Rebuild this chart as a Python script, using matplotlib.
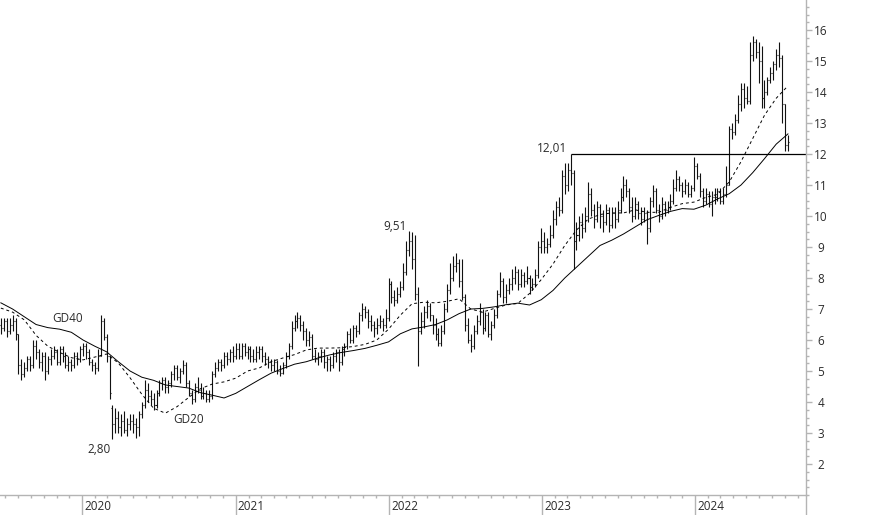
import matplotlib
matplotlib.use("Agg")
import matplotlib.pyplot as plt
import matplotlib.dates as mdates
from matplotlib.collections import LineCollection
from matplotlib.lines import Line2D
from matplotlib.ticker import MultipleLocator, NullFormatter
import pandas as pd

plt.rcParams['font.family'] = ['Open Sans', 'DejaVu Sans']

# weekly bars, first week
start = "2019-06-21"

opens = [6.5, 6.4, 6.6, 6.3, 6.5, 6.6, 6.2, 5.2, 4.9, 5.1,
         5.4, 5.2, 5.8, 5.6, 5.3, 5.5, 5.0, 5.4, 5.5, 5.6,
         5.3, 5.7, 5.5, 5.2, 5.3, 5.2, 5.5, 5.4, 5.7, 5.8,
         5.6, 5.3, 5.2, 5.1, 5.5, 6.6, 6.1, 5.5, 3.8, 3.3,
         3.5, 3.2, 3.4, 3.1, 3.3, 3.4, 3.3, 3.2, 3.6, 3.9,
         4.4, 4.2, 4.1, 3.9, 4.3, 4.6, 4.7, 4.5, 4.6, 4.9,
         5.1, 4.8, 5.0, 5.2, 4.6, 4.3, 4.1, 4.5, 4.4, 4.2,
         4.3, 4.1, 4.2, 4.9, 5.1, 5.3, 5.2, 5.5, 5.4, 5.6,
         5.5, 5.7, 5.5, 5.8, 5.6, 5.7, 5.5, 5.4, 5.6, 5.7,
         5.5, 5.4, 5.3, 5.2, 5.3, 5.0, 4.95, 5.2, 5.5, 5.8,
         6.4, 6.6, 6.7, 6.5, 6.3, 6.0, 6.1, 5.5, 5.4, 5.5,
         5.6, 5.3, 5.4, 5.2, 5.5, 5.6, 5.3, 5.7, 5.8, 6.2,
         6.0, 6.4, 6.3, 6.8, 7.0, 6.9, 6.6, 6.5, 6.4, 6.5,
         6.6, 6.5, 6.7, 7.8, 7.4, 7.3, 7.5,
         7.7, 8.2, 8.9, 9.2, 8.6, 7.5, 6.3, 6.6, 6.9, 7.1,
         6.8, 6.5, 6.2, 5.9, 6.3, 7.0, 7.6, 8.0, 8.4, 8.5,
         7.9, 7.4, 6.5, 6.0, 5.8, 6.3, 6.6, 6.9, 6.4, 6.8,
         6.2, 6.5, 6.8, 7.5, 7.9, 7.4, 7.6, 7.8, 8.0, 8.2,
         7.8, 8.1, 7.9, 8.0, 7.7, 7.8, 8.1, 9.0, 9.2, 9.0,
         9.1, 9.4, 9.9, 10.3, 10.2, 11.3, 11.0, 11.5, 11.4, 9.2,
         9.4, 9.8, 9.6, 10.0, 10.7, 10.2, 9.9, 10.3, 10.0, 9.8,
         10.2, 9.7, 10.1, 9.9, 10.2, 10.6, 11.0, 10.8, 10.3, 10.0,
         10.4, 10.1, 9.9, 10.1, 9.6, 10.5, 10.8, 10.2, 10.0, 10.4,
         10.2, 10.3, 10.5, 10.9, 11.2, 11.0, 10.8, 11.0, 10.7, 10.9,
         11.6, 11.3, 10.8, 10.5, 10.7, 10.4, 10.6, 10.6, 10.8, 10.5,
         10.7, 11.0, 12.8, 12.7, 13.1, 13.6, 14.1, 13.8, 13.7, 15.2,
         15.6, 15.3, 15.0, 13.8, 14.0, 14.4,
         14.6, 14.9, 15.2, 15.1, 13.6, 12.3]

highs = [6.7, 6.7, 6.7, 6.7, 6.8, 6.7, 6.2, 5.4, 5.3, 5.5,
         5.5, 6.0, 6.0, 5.7, 5.6, 5.6, 5.5, 5.7, 5.8, 5.7,
         5.8, 5.8, 5.6, 5.5, 5.4, 5.6, 5.6, 5.8, 5.9, 5.9,
         5.7, 5.4, 5.3, 5.7, 6.8, 6.7, 6.2, 5.5, 3.9, 3.8,
         3.7, 3.6, 3.7, 3.5, 3.6, 3.6, 3.5, 3.7, 4.0, 4.7,
         4.6, 4.4, 4.3, 4.4, 4.7, 4.8, 4.8, 4.7, 5.0, 5.2,
         5.2, 5.1, 5.35, 5.3, 4.7, 4.4, 4.6, 4.8, 4.6, 4.5,
         4.4, 4.4, 5.0, 5.3, 5.4, 5.4, 5.6, 5.6, 5.7, 5.8,
         5.9, 5.9, 5.9, 5.9, 5.8, 5.8, 5.7, 5.8, 5.8, 5.8,
         5.6, 5.5, 5.4, 5.4, 5.35, 5.2, 5.3, 5.6, 5.9, 6.6,
         6.8, 6.9, 6.8, 6.6, 6.4, 6.3, 6.2, 5.7, 5.6, 5.7,
         5.7, 5.5, 5.5, 5.6, 5.7, 5.7, 5.8, 5.9, 6.3, 6.4,
         6.5, 6.5, 6.9, 7.2, 7.1, 7.0, 6.8, 6.6, 6.7, 6.8,
         6.7, 7.0, 8.0, 7.9, 7.6, 7.7, 7.9,
         8.5, 9.2, 9.51, 9.5, 9.4, 7.7, 6.9, 7.1, 7.3, 7.2,
         6.8, 6.7, 6.4, 6.5, 7.2, 7.8, 8.5, 8.7, 8.8, 8.6,
         8.6, 7.5, 6.7, 6.2, 6.5, 6.8, 7.2, 7.0, 6.9, 6.9,
         6.6, 7.0, 7.6, 8.2, 8.0, 7.8, 8.0, 8.3, 8.4, 8.3,
         8.3, 8.2, 8.4, 8.1, 8.0, 8.3, 9.2, 9.6, 9.5, 9.3,
         9.7, 10.2, 10.5, 10.6, 11.5, 11.7, 11.7, 12.01, 11.5, 9.8,
         10.0, 10.1, 10.3, 11.1, 10.9, 10.4, 10.5, 10.4, 10.2, 10.4,
         10.3, 10.3, 10.3, 10.5, 10.9, 11.3, 11.2, 10.9, 10.6, 10.6,
         10.5, 10.3, 10.3, 10.2, 10.6, 11.0, 10.9, 10.4, 10.6, 10.5,
         10.5, 10.7, 11.2, 11.5, 11.3, 11.1, 11.2, 11.1, 11.0, 11.9,
         11.7, 11.4, 10.9, 10.9, 10.8, 10.8, 10.9, 10.9, 10.9, 10.9,
         11.6, 12.9, 13.0, 13.3, 13.9, 14.3, 14.3, 14.2, 15.6, 15.8,
         15.7, 15.6, 15.5, 14.4, 14.5, 14.8,
         15.0, 15.4, 15.6, 15.2, 13.6, 12.6]

lows = [6.2, 6.3, 6.1, 6.2, 6.3, 6.0, 4.9, 4.7, 4.8, 5.0,
        5.0, 5.1, 5.4, 5.1, 5.0, 4.7, 4.9, 5.2, 5.4, 5.2,
        5.2, 5.3, 5.1, 5.0, 5.0, 5.1, 5.2, 5.3, 5.5, 5.4,
        5.2, 5.0, 4.9, 5.0, 5.5, 6.0, 5.3, 4.1, 2.8, 3.0,
        3.0, 2.9, 3.0, 2.9, 3.1, 3.0, 2.85, 2.9, 3.5, 3.8,
        4.0, 3.9, 3.75, 3.8, 4.2, 4.4, 4.3, 4.3, 4.5, 4.7,
        4.7, 4.6, 4.9, 4.5, 4.2, 3.95, 4.0, 4.3, 4.1, 4.1,
        4.0, 4.0, 4.1, 4.8, 5.0, 5.0, 5.1, 5.2, 5.3, 5.3,
        5.4, 5.4, 5.4, 5.5, 5.4, 5.3, 5.3, 5.3, 5.4, 5.3,
        5.2, 5.1, 5.0, 5.0, 4.9, 4.85, 4.9, 5.1, 5.4, 5.7,
        6.3, 6.4, 6.3, 6.0, 5.8, 5.8, 5.4, 5.3, 5.2, 5.3,
        5.1, 5.0, 5.0, 5.1, 5.3, 5.0, 5.2, 5.5, 5.7, 5.9,
        5.9, 6.1, 6.2, 6.6, 6.7, 6.4, 6.3, 6.1, 6.2, 6.4,
        6.3, 6.4, 6.6, 7.2, 7.1, 7.2, 7.4,
        7.6, 8.1, 8.7, 8.3, 7.3, 5.15, 6.2, 6.4, 6.7, 6.6,
        6.2, 6.0, 5.8, 5.8, 6.2, 6.9, 7.5, 7.9, 8.2, 7.7,
        7.3, 6.3, 5.9, 5.6, 5.7, 6.2, 6.5, 6.2, 6.3, 6.1,
        6.0, 6.4, 6.7, 7.4, 7.2, 7.2, 7.5, 7.6, 7.8, 7.6,
        7.7, 7.7, 7.8, 7.5, 7.6, 7.7, 8.0, 8.8, 8.8, 8.8,
        9.0, 9.3, 9.7, 10.0, 10.1, 10.7, 10.8, 11.0, 8.3, 8.9,
        9.2, 9.3, 9.5, 9.8, 10.0, 9.6, 9.8, 9.6, 9.5, 9.7,
        9.5, 9.6, 9.6, 9.8, 10.1, 10.5, 10.6, 10.1, 9.8, 9.9,
        9.9, 9.7, 9.8, 9.1, 9.5, 10.3, 10.1, 9.8, 9.9, 10.0,
        10.1, 10.2, 10.4, 10.8, 10.8, 10.6, 10.7, 10.6, 10.6, 10.8,
        11.2, 10.6, 10.3, 10.4, 10.3, 10.0, 10.4, 10.5, 10.4, 10.4,
        10.6, 11.0, 12.5, 12.6, 13.0, 13.4, 13.5, 13.6, 13.6, 15.0,
        15.1, 14.3, 13.5, 13.5, 13.9, 14.3,
        14.4, 14.7, 14.8, 13.0, 12.1, 12.1]

closes = [6.4, 6.6, 6.3, 6.5, 6.6, 6.2, 5.2, 4.9, 5.1, 5.4,
          5.2, 5.8, 5.6, 5.3, 5.5, 5.0, 5.4, 5.5, 5.6, 5.3,
          5.7, 5.5, 5.2, 5.3, 5.2, 5.5, 5.4, 5.7, 5.8, 5.6,
          5.3, 5.2, 5.1, 5.5, 6.6, 6.1, 5.5, 4.3, 3.3, 3.5,
          3.2, 3.4, 3.1, 3.3, 3.4, 3.3, 3.2, 3.6, 3.9, 4.4,
          4.2, 4.1, 3.9, 4.3, 4.6, 4.7, 4.5, 4.6, 4.9, 5.1,
          4.8, 5.0, 5.2, 4.6, 4.3, 4.1, 4.5, 4.4, 4.2, 4.3,
          4.1, 4.2, 4.9, 5.1, 5.3, 5.2, 5.5, 5.4, 5.6, 5.5,
          5.7, 5.5, 5.8, 5.6, 5.7, 5.5, 5.4, 5.6, 5.7, 5.5,
          5.4, 5.3, 5.2, 5.3, 5.0, 4.95, 5.2, 5.5, 5.8, 6.4,
          6.6, 6.7, 6.5, 6.3, 6.0, 6.1, 5.5, 5.4, 5.5, 5.6,
          5.3, 5.4, 5.2, 5.5, 5.6, 5.3, 5.7, 5.8, 6.2, 6.0,
          6.4, 6.3, 6.8, 7.0, 6.9, 6.6, 6.5, 6.4, 6.5, 6.6,
          6.5, 6.7, 7.8, 7.4, 7.3, 7.5, 7.7,
          8.2, 8.9, 9.2, 8.6, 7.5, 6.3, 6.6, 6.9, 7.1, 6.8,
          6.5, 6.2, 5.9, 6.3, 7.0, 7.6, 8.0, 8.4, 8.5, 7.9,
          7.4, 6.5, 6.0, 5.8, 6.3, 6.6, 6.9, 6.4, 6.8, 6.2,
          6.5, 6.8, 7.5, 7.9, 7.4, 7.6, 7.8, 8.0, 8.2, 7.8,
          8.1, 7.9, 8.0, 7.7, 7.8, 8.1, 9.0, 9.2, 9.0, 9.1,
          9.4, 9.9, 10.3, 10.2, 11.3, 11.0, 11.5, 11.4, 9.2, 9.4,
          9.8, 9.6, 10.0, 10.7, 10.2, 9.9, 10.3, 10.0, 9.8, 10.2,
          9.7, 10.1, 9.9, 10.2, 10.6, 11.0, 10.8, 10.3, 10.0, 10.4,
          10.1, 9.9, 10.1, 9.6, 10.5, 10.8, 10.2, 10.0, 10.4, 10.2,
          10.3, 10.5, 10.9, 11.2, 11.0, 10.8, 11.0, 10.7, 10.9, 11.6,
          11.3, 10.8, 10.5, 10.7, 10.4, 10.6, 10.6, 10.8, 10.5, 10.7,
          11.0, 12.8, 12.7, 13.1, 13.6, 14.1, 13.8, 13.7, 15.2, 15.6,
          15.3, 15.0, 13.8, 14.0, 14.4, 14.6,
          14.9, 15.2, 15.1, 13.6, 12.3, 12.4]

# moving averages read every 4th week
gd20 = [7.03, 6.9, 6.65, 6.15, 5.8, 5.6, 5.43, 5.36, 5.45, 5.55,
        5.26, 4.78, 4.25, 3.8, 3.64, 3.85, 4.15, 4.43, 4.58, 4.65,
        4.77, 5.0, 5.1, 5.3, 5.42, 5.53, 5.68, 5.74, 5.74, 5.75,
        5.79, 5.86, 6.0, 6.35, 6.8, 7.17, 7.22, 7.2, 7.25, 7.33,
        7.0, 6.9, 7.02, 7.13, 7.18, 7.5, 7.95, 8.45, 9.05, 9.55,
        9.9, 10.05, 10.1, 10.1, 10.2, 10.12, 10.12, 10.28, 10.4, 10.45,
        10.6, 10.7, 11.1, 11.75, 12.5, 13.25, 13.8, 14.2]

gd40 = [7.2, 7.0, 6.75, 6.5, 6.4, 6.35, 6.25, 6.0, 5.8, 5.62,
        5.3, 5.0, 4.8, 4.7, 4.55, 4.5, 4.45, 4.3, 4.22, 4.13,
        4.28, 4.5, 4.72, 4.93, 5.08, 5.22, 5.3, 5.42, 5.52, 5.6,
        5.66, 5.73, 5.83, 5.94, 6.2, 6.36, 6.42, 6.5, 6.65, 6.85,
        7.0, 7.02, 7.07, 7.14, 7.19, 7.13, 7.3, 7.6, 8.0, 8.35,
        8.7, 9.05, 9.22, 9.42, 9.65, 9.88, 10.02, 10.15, 10.24, 10.22,
        10.35, 10.55, 10.72, 11.0, 11.4, 11.85, 12.32, 12.65]

resistance = 12.01
low_mark = 2.80
high_mark = 9.51
years = [2020, 2021, 2022, 2023, 2024]

gray = "#b4b4b4"
txt = "#2b2b2b"

weeks = pd.date_range(start, periods=len(closes), freq="7D")
x = mdates.date2num(weeks)
ma_x = x[::4]

fig = plt.figure(figsize=(8.74, 5.15), dpi=100)
ax = fig.add_axes([0, 20 / 515, 806 / 874, 495 / 515])

# OHLC bars
half = 2.4
segs = []
for xi, o, h, l, c in zip(x, opens, highs, lows, closes):
    segs.append([(xi, l), (xi, h)])
    segs.append([(xi - half, o), (xi, o)])
    segs.append([(xi, c), (xi + half, c)])
ax.add_collection(LineCollection(segs, colors="#111111", linewidths=0.8))

ax.plot(ma_x, gd40, color="black", lw=0.7)
ax.plot(ma_x, gd20, color="black", lw=0.7, ls=(0, (3, 3)))

x0 = mdates.date2num(pd.Timestamp("2019-06-19"))
x1 = mdates.date2num(pd.Timestamp("2024-09-21"))
ax.set_xlim(x0, x1)
ax.set_ylim(1.0, 16.97)

i_res = highs.index(resistance)
ax.hlines(resistance, x[i_res], x1, color="black", lw=0.9)

# labels
ax.annotate("12,01", xy=(x[i_res], resistance), xytext=(-3, 2),
            textcoords="offset pixels", ha="right", va="baseline",
            fontsize=8.5, color=txt)
i_hi = highs.index(high_mark)
ax.annotate("9,51", xy=(x[i_hi], high_mark), xytext=(-2, 1),
            textcoords="offset pixels", ha="right", va="baseline",
            fontsize=8.5, color=txt)
i_lo = lows.index(low_mark)
ax.annotate("2,80", xy=(x[i_lo], low_mark), xytext=(-2, -4),
            textcoords="offset pixels", ha="right", va="top",
            fontsize=8.5, color=txt)
ax.text(mdates.date2num(pd.Timestamp("2019-11-27")), 6.68, "GD40",
        ha="center", va="center", fontsize=8.5, color=txt)
ax.text(mdates.date2num(pd.Timestamp("2020-09-10")), 3.42, "GD20",
        ha="center", va="center", fontsize=8.5, color=txt)

# axes styling
for s in ["left", "top"]:
    ax.spines[s].set_visible(False)
for s in ["right", "bottom"]:
    ax.spines[s].set_color(gray)
    ax.spines[s].set_linewidth(1.0)

ax.yaxis.tick_right()
ax.set_yticks(range(2, 17))
ax.yaxis.set_minor_locator(MultipleLocator(0.25))
ax.tick_params(axis="y", which="major", length=4.3, width=1, color=gray,
               labelsize=8.5, labelcolor=txt, pad=6.5)
ax.tick_params(axis="y", which="minor", length=2.5, width=1, color=gray)
plt.setp(ax.get_yticklabels(), ha="center")

ax.xaxis.set_major_locator(mdates.YearLocator())
ax.xaxis.set_minor_locator(mdates.MonthLocator())
ax.xaxis.set_major_formatter(NullFormatter())
ax.tick_params(axis="x", which="major", length=14.4, width=1, color=gray)
ax.tick_params(axis="x", which="minor", length=2.2, width=1, color=gray)
for yr in years:
    ax.annotate(str(yr), xy=(mdates.date2num(pd.Timestamp(f"{yr}-01-01")), 0),
                xycoords=("data", "axes fraction"), xytext=(2, -5),
                textcoords="offset pixels", ha="left", va="top",
                fontsize=8.5, color=txt, annotation_clip=False)

fig.add_artist(Line2D([806 / 874, 806 / 874], [0, 20 / 515],
                      transform=fig.transFigure, color=gray, lw=1.0))

fig.savefig("out.png", dpi=100, facecolor="white")
